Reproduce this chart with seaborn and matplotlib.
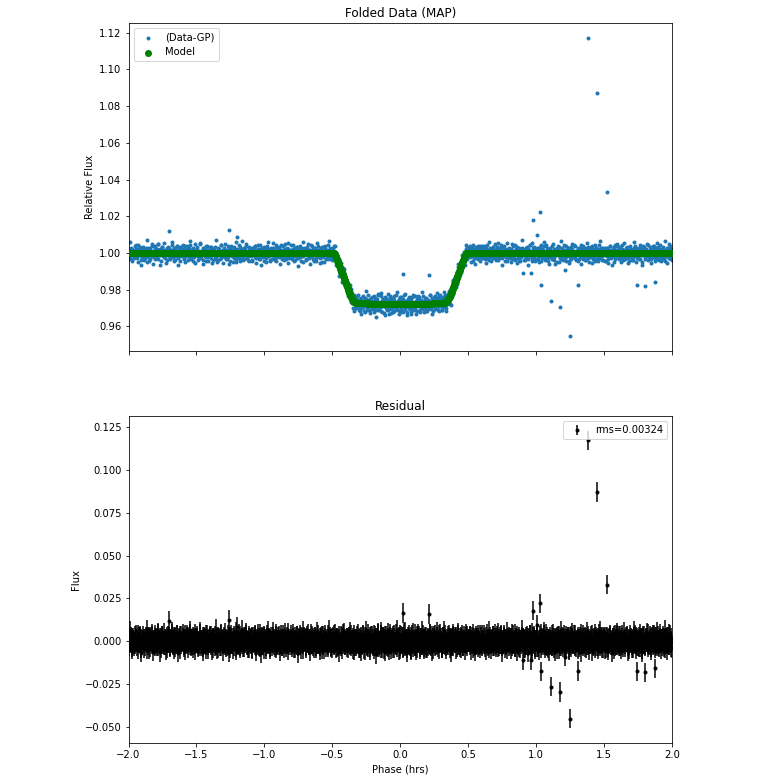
import numpy as np
import pandas as pd
import matplotlib
matplotlib.use("Agg")
import matplotlib.pyplot as plt
import seaborn as sns

# ---------------- data ----------------
# Folded light curve, cadence A (phase -2 .. 2 hrs): residuals (data-GP minus model), units of 1e-4
resid_e4_a = [
    12,-31,5,27,-8,-44,19,3,-17,36,-2,22,-29,9,41,-13,-6,30,-38,15,
    -21,7,33,-11,-27,18,2,-49,25,-4,13,-35,28,6,-19,47,-9,-24,11,38,
    -3,-16,24,51,-30,8,-12,20,-41,14,32,-7,-23,4,17,-52,26,-1,35,-14,
    9,-28,16,-5,43,-20,1,29,-36,21,-10,6,39,-25,-15,13,-46,31,0,-8,
    23,-33,10,37,-18,-2,26,-40,15,5,-26,44,-12,18,-6,30,-22,8,-54,19,
    -7,34,-15,2,-29,48,11,-19,-3,27,-37,14,-9,22,-45,6,40,-24,-11,17,
    31,-5,-26,12,20,-39,7,-14,33,-21,3,-48,25,16,-8,-30,42,-2,10,-18,
    -12,26,4,-34,15,-1,38,-23,9,-43,28,-6,19,-16,1,35,-27,13,-50,21,
    6,-20,45,-9,-31,17,-4,24,-37,11,29,-13,-2,40,-25,8,-15,32,-41,3,
    -16,19,-38,27,5,-11,36,-28,14,-3,-22,46,-7,20,-33,10,25,-19,2,-44,
    28,-8,13,-27,39,-15,-1,22,-46,16,7,-32,30,-10,18,-5,-36,43,-21,11,
    -2,33,-24,6,-13,41,-30,9,17,-40,24,-4,-18,29,-11,52,-26,4,-8,15,
    -35,12,21,-6,-42,27,3,-17,31,-9,-28,14,37,-22,5,-14,20,-47,26,1,
    18,-39,8,34,-12,-25,15,-3,44,-19,10,-31,23,-7,-1,30,-43,16,-15,39,
    -10,4,-29,25,11,-48,32,-16,2,21,-35,7,-9,42,-23,13,-5,28,-34,-2,
    24,-14,37,-20,-6,16,-41,19,-27,9,35,-12,1,-30,26,-18,47,-8,14,-25,
    5,-36,20,-11,30,-3,-21,40,-15,12,-44,23,-4,17,-32,8,-19,36,-7,-26,
    15,-42,29,-8,-24,38,-13,6,-51,22,11,-30,45,-17,3,-37,27,-5,-20,33,
    -28,10,-45,31,-2,19,-34,52,-14,-23,7,40,-39,16,-9,25,-48,13,36,-19,
    2,-31,24,-55,18,43,-12,-26,9,34,-41,21,-6,-16,48,-33,14,-3,29,-46,
    37,-20,-8,27,-37,5,50,-24,16,-11,-43,30,-2,22,-29,11,-52,39,-15,8,
    -17,44,-30,13,-5,-40,26,-13,35,-47,19,3,-22,41,-9,-34,17,28,-26,6,
    -39,21,12,-18,46,-28,-3,32,-45,15,-10,38,-21,4,26,-36,9,-14,43,-7,
    20,-25,-38,30,8,-16,41,-31,1,-20,34,-5,17,-42,11,23,-13,-29,31,-4,
    -9,27,14,-33,-1,39,-22,7,-15,25,-38,18,2,-27,33,-12,-4,44,-30,10,
    16,-6,-23,36,-14,4,28,-42,20,-8,-1,31,-26,13,-35,22,7,-18,40,-11,
    -27,38,3,-16,24,-33,11,-7,45,-21,14,-40,27,-3,-17,9,-29,34,-12,19,
    1,-23,32,-10,-36,18,-5,26,-19,42,-28,8,-13,37,-2,-24,15,-46,21,6,
    30,-15,-2,19,-30,47,-20,12,-8,-37,24,-11,33,-26,5,16,-42,10,-4,28,
    -13,22,-40,8,15,-24,34,-1,-31,17,-6,41,-18,3,-45,27,-10,20,-35,12,
    7,-34,26,-19,2,31,-14,-43,23,-3,14,-25,38,-9,-21,45,-30,6,18,-16,
    -24,11,-7,40,-27,13,-39,20,5,-12,29,-47,16,-1,35,-20,8,-32,25,-5,
    19,-2,-28,15,36,-17,-6,27,-44,11,-23,32,-10,24,-15,-3,41,-26,9,-37,
    -8,30,17,-35,4,-21,44,-13,21,-30,7,-16,28,-40,19,2,-25,34,-11,14,
    -20,6,39,-14,-32,23,1,-41,30,-7,16,-28,10,46,-19,-9,25,-38,13,-3,
    26,-45,12,-4,29,-18,-33,19,-10,37,-26,5,-14,22,-49,31,-2,15,-22,40,
    -5,17,-31,34,-12,7,-24,42,-36,13,-1,-19,27,-8,33,-29,18,-44,4,21,
    14,-26,8,-40,25,-6,37,-15,-27,20,-2,30,-34,11,-9,24,-47,16,36,-13,
    -31,9,21,-7,-18,43,-23,3,16,-35,28,-11,-4,39,-20,6,-30,26,-15,32,
    11,-37,-5,24,-13,-28,18,35,-21,4,-42,19,-8,29,-16,47,-25,1,-33,20,
    -6,
]
phase_a_min, phase_a_max = -2.0, 2.0

# transit model at cadence A phases
model_a_out_before = [1.0] * 303
model_a_ingress = [0.9997, 0.9991, 0.9983, 0.9974, 0.9964, 0.9954, 0.9944, 0.9934, 0.9924,
                   0.9914, 0.9904, 0.9894, 0.9884, 0.9874, 0.9864, 0.9854, 0.9844, 0.9834,
                   0.9824, 0.9814, 0.9804, 0.9794, 0.9784, 0.9775, 0.9766, 0.9758, 0.9751,
                   0.9745, 0.9740, 0.9736, 0.9733, 0.9731, 0.9730, 0.9729, 0.9728]
model_a_bottom = [0.9727] * 15 + [0.9725] * 20 + [0.9722] * 55 + [0.9725] * 20 + [0.9727] * 15
model_a_egress = [0.9728, 0.9729, 0.9730, 0.9731, 0.9733, 0.9736, 0.9740, 0.9745, 0.9751,
                  0.9758, 0.9766, 0.9775, 0.9784, 0.9794, 0.9804, 0.9814, 0.9824, 0.9834,
                  0.9844, 0.9854, 0.9864, 0.9874, 0.9884, 0.9894, 0.9904, 0.9914, 0.9924,
                  0.9934, 0.9944, 0.9954, 0.9964, 0.9974, 0.9983, 0.9991, 0.9997]
model_a_out_after = [1.0] * 303

# Folded light curve, cadence B (phase -1.9975 .. 1.9975 hrs): residuals, units of 1e-4
resid_e4_b = [
    8,-14,61,-3,22,-35,11,-27,4,-19,42,-6,17,-48,1,25,-9,33,-66,13,
    -20,5,-38,16,-2,29,-11,70,-24,7,-45,19,-7,3,36,-16,-58,10,-30,24,
    14,-1,-29,47,-12,9,-63,21,-5,31,2,-18,52,-26,-8,15,-40,6,-13,27,
    -34,18,3,-10,58,-21,12,-46,26,-4,-15,39,0,-67,23,-9,33,-19,7,44,
    1,-25,17,-50,9,37,-6,-16,28,-3,64,-32,11,-22,5,-41,19,-12,48,-7,
    21,-9,-36,6,-18,55,-27,13,-2,-60,30,4,-14,40,-23,16,-5,-44,10,26,
    -12,34,-4,-53,20,-8,15,-31,72,-17,2,-39,24,-11,-1,43,-28,8,-56,18,
    6,-22,49,-13,-30,11,-3,27,-62,16,38,-7,-19,3,-47,22,12,-35,59,-15,
    -26,10,-6,32,-42,4,66,-20,14,-9,-33,25,-2,51,-16,7,-38,19,-11,0,
    17,-44,28,-5,8,-21,40,-57,12,-14,23,-1,-31,46,-8,-68,20,5,-24,35,
    -3,15,-49,22,-10,60,-19,6,-37,29,-13,2,54,-25,11,-6,-43,31,-17,9,
    27,-8,13,-61,18,-29,4,37,-15,-2,50,-34,9,-20,24,-52,14,-4,41,-23,
    -10,45,-18,7,-39,12,-1,-26,33,-70,19,8,-12,28,-45,3,62,-16,-7,21,
    4,-32,20,-11,48,-24,16,-59,6,-15,36,-3,-41,13,25,-9,-28,57,-19,10,
    -17,23,-55,14,-6,31,-22,9,-48,39,-1,-14,18,-33,68,-12,5,-27,16,-40,
    30,-4,-21,43,-13,2,-36,24,11,-64,15,-8,34,-18,-47,21,-2,52,-25,6,
    -9,19,-42,8,26,-15,56,-31,3,-20,12,-53,38,-6,17,-29,-11,44,-3,-38,
    22,-58,11,-17,35,-1,-44,27,-13,65,-24,7,-36,18,2,-50,31,-9,14,-26,
    -6,40,-28,15,-73,23,-10,48,-35,4,-19,59,-12,-41,26,-4,16,-60,33,-15,
    12,-33,53,-20,-7,29,-47,8,21,-14,-38,42,-1,-25,67,-16,10,-52,19,-30,
    -18,36,-5,-43,25,-12,57,-29,3,-62,18,-8,39,-21,13,-46,30,-2,-34,51,
    9,-27,14,-55,32,-11,44,-3,-37,20,-16,63,-24,6,-49,15,-7,28,-40,2,
    -31,17,-4,46,-22,8,-58,24,-13,35,-1,-30,12,54,-19,-8,40,-44,21,-10,
    5,-39,29,-15,61,-26,11,-48,16,-3,-21,37,-9,23,-65,14,-32,45,-6,18,
    -14,28,-46,3,-23,50,-8,19,-35,7,-12,41,-27,10,-2,-54,26,-17,34,-5,
    16,-7,33,-50,12,-18,2,43,-29,9,-61,22,-4,-15,37,-24,6,-42,27,-11,
    -22,9,-3,38,-16,-55,25,-7,14,-32,60,-20,4,-45,18,-10,31,-1,-27,47,
    7,-36,21,-12,52,-28,1,-19,32,-63,11,-5,27,-41,15,-24,56,-8,-14,24,
    -29,13,-48,20,-6,39,-17,5,-33,46,-2,-57,16,-11,28,-37,9,-20,69,-4,
    19,-12,4,-40,30,-23,10,-66,22,-8,41,-15,-3,53,-30,8,-19,35,-46,11,
    -5,24,-35,12,-51,18,-2,44,-26,7,-14,58,-38,3,-21,29,-9,-43,16,-60,
    26,-19,8,-31,47,-6,-24,15,-59,21,-4,36,-12,-47,10,-28,64,-16,2,-37,
    -13,41,-22,6,-42,16,-8,30,-54,25,-1,-33,13,49,-18,4,-27,38,-11,-3,
    11,-45,18,-9,27,-62,3,-20,40,-14,22,-5,-36,9,55,-25,17,-50,6,-17,
    -7,32,-56,14,-23,5,46,-31,12,-2,-44,20,-13,63,-28,7,-16,26,-39,15,
    23,-10,-41,28,-4,-52,17,-18,36,-8,11,-65,24,-15,1,42,-30,13,-22,50,
    -16,6,35,-27,9,-47,21,-3,-13,54,-35,18,-6,30,-57,12,-24,3,39,-9,
    2,-38,16,-19,60,-12,27,-49,7,-28,13,-4,45,-33,20,-10,-63,24,-1,31,
    -24,14,-8,51,-36,3,-15,33,-52,19,-6,40,-21,8,-43,26,-12,-3,57,-30,
    10,-20,43,-46,15,-9,22,-33,1,67,-17,12,-55,29,-7,-26,37,-14,5,-39,
]
phase_b_min, phase_b_max = -1.9975, 1.9975

# transit model at cadence B phases
model_b_out_before = [1.0] * 302
model_b_ingress = [0.9999, 0.9994, 0.9987, 0.9979, 0.9969, 0.9959, 0.9949, 0.9939, 0.9929,
                   0.9919, 0.9909, 0.9899, 0.9889, 0.9879, 0.9869, 0.9859, 0.9849, 0.9839,
                   0.9829, 0.9819, 0.9809, 0.9799, 0.9789, 0.9780, 0.9770, 0.9762, 0.9754,
                   0.9748, 0.9742, 0.9738, 0.9734, 0.9732, 0.9730, 0.9729, 0.9728, 0.9728]
model_b_bottom = [0.9727] * 15 + [0.9725] * 20 + [0.9722] * 54 + [0.9725] * 20 + [0.9727] * 15
model_b_egress = [0.9728, 0.9728, 0.9729, 0.9730, 0.9732, 0.9734, 0.9738, 0.9742, 0.9748,
                  0.9754, 0.9762, 0.9770, 0.9780, 0.9789, 0.9799, 0.9809, 0.9819, 0.9829,
                  0.9839, 0.9849, 0.9859, 0.9869, 0.9879, 0.9889, 0.9899, 0.9909, 0.9919,
                  0.9929, 0.9939, 0.9949, 0.9959, 0.9969, 0.9979, 0.9987, 0.9994, 0.9999]
model_b_out_after = [1.0] * 302

# outlying points (phase in hrs, residual flux, model flux at that phase)
outlier_phase = [-1.70, -1.26, -1.20, 0.02, 0.215, 0.90, 0.96, 0.975, 1.005, 1.025, 1.035,
                 1.108, 1.176, 1.21, 1.25, 1.31, 1.382, 1.449, 1.52, 1.74, 1.80, 1.875]
outlier_resid = [0.0118, 0.0126, 0.0085, 0.0165, 0.0160, -0.0110, -0.0110, 0.0178, 0.0097,
                 0.0222, -0.0175, -0.0264, -0.0295, -0.0090, -0.0451, -0.0173, 0.1170,
                 0.0870, 0.0330, -0.0175, -0.0180, -0.0157]
outlier_model = [1.0, 1.0, 1.0, 0.9722, 0.9722, 1.0, 1.0, 1.0, 1.0, 1.0, 1.0,
                 1.0, 1.0, 1.0, 1.0, 1.0, 1.0, 1.0, 1.0, 1.0, 1.0, 1.0]

flux_err = 0.0056
rms_label = "rms=0.00324"

# ---------------- assemble ----------------
model_a = model_a_out_before + model_a_ingress + model_a_bottom + model_a_egress + model_a_out_after
model_b = model_b_out_before + model_b_ingress + model_b_bottom + model_b_egress + model_b_out_after
phase_a = np.linspace(phase_a_min, phase_a_max, len(resid_e4_a))
phase_b = np.linspace(phase_b_min, phase_b_max, len(resid_e4_b))

df = pd.DataFrame({
    "phase": np.concatenate([phase_a, phase_b, outlier_phase]),
    "resid": np.concatenate([np.array(resid_e4_a) * 1e-4, np.array(resid_e4_b) * 1e-4,
                             outlier_resid]),
    "model": np.concatenate([model_a, model_b, outlier_model]),
})
df["flux"] = df["model"] + df["resid"]

# ---------------- plot ----------------
plt.rcdefaults()
W, H, DPI = 777, 784, 72
fig = plt.figure(figsize=(W / DPI, H / DPI), dpi=DPI)

left = 128.5 / W
width = (672 - 128.5) / W
ax1 = fig.add_axes([left, (H - 350.7) / H, width, (350.7 - 23.3) / H])
ax2 = fig.add_axes([left, (H - 743.3) / H, width, (743.3 - 416.0) / H], sharex=ax1)

sns.scatterplot(data=df, x="phase", y="flux", ax=ax1, color="#1f77b4", s=16,
                linewidth=0, label="(Data-GP)", zorder=2)
sns.scatterplot(data=df, x="phase", y="model", ax=ax1, color="green", s=49,
                linewidth=0, label="Model", zorder=3)
ax1.set_title("Folded Data (MAP)")
ax1.set_ylabel("Relative Flux")
ax1.set_xlabel("")
ax1.tick_params(labelbottom=False)
ax1.legend(loc="upper left")

ax2.errorbar(df["phase"], df["resid"], yerr=flux_err, fmt=".", color="k", label=rms_label)
ax2.set_title("Residual")
ax2.set_ylabel("Flux")
ax2.set_xlabel("Phase (hrs)")
ax2.set_xlim(-2.0, 2.0)
ax2.legend(loc="upper right")

fig.savefig("out.png", dpi=DPI)
